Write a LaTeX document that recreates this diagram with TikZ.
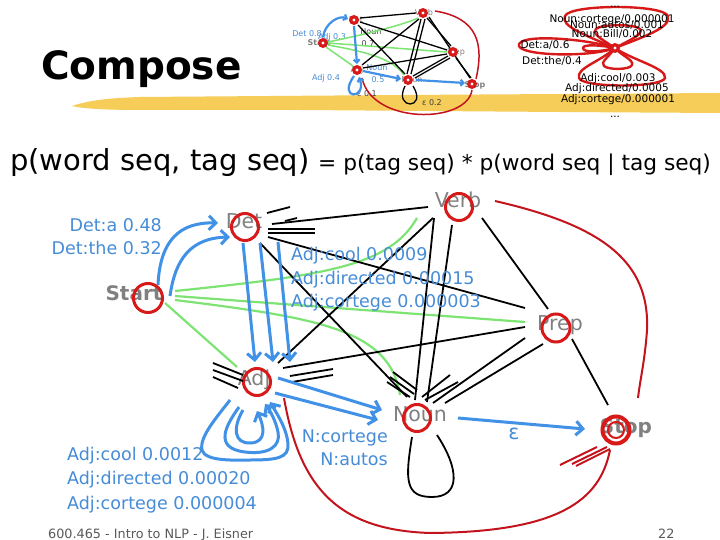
\documentclass[tikz,border=0pt]{standalone}
\usepackage{fontspec}
\setmainfont{DejaVu Sans}
\usetikzlibrary{arrows.meta,calc}
\definecolor{tagred}{RGB}{215,25,25}
\definecolor{curvered}{RGB}{195,20,30}
\definecolor{arrblue}{RGB}{65,145,230}
\definecolor{labblue}{RGB}{70,140,215}
\definecolor{lgreen}{RGB}{125,228,115}
\definecolor{taggray}{RGB}{128,128,128}
\definecolor{brush}{RGB}{244,200,70}
\definecolor{footgray}{RGB}{90,90,90}
\newcommand{\myfs}[1]{\fontsize{#1}{#1}\selectfont}
\tikzset{
  tagcirc/.style={circle, draw=tagred, line width=3pt, minimum size=27pt, inner sep=0pt},
  taglab/.style={text=taggray, font=\myfs{20.5}, inner sep=0pt, anchor=mid},
  taglabb/.style={text=taggray, font=\myfs{20}\bfseries, inner sep=0pt, anchor=mid},
  blab/.style={text=labblue, font=\myfs{17.5}, inner sep=0pt},
  blk/.style={draw=black, line width=1.8pt},
  grn/.style={draw=lgreen, line width=2.2pt},
  redc/.style={draw=curvered, line width=2pt},
  barr/.style={draw=arrblue, line width=3pt, -{Straight Barb[length=7pt,width=14pt]}},
  tdot/.style={circle, fill=tagred, minimum size=10pt, inner sep=0pt,
     path picture={\fill[white] (path picture bounding box.center) circle (1.6pt);}},
  tlab/.style={font=\myfs{8}, inner sep=0pt, anchor=mid},
  tblk/.style={draw=black, line width=1.3pt},
  tgrn/.style={draw=lgreen, line width=1.5pt},
  tblu/.style={draw=arrblue, line width=2.2pt, -{Straight Barb[length=3pt,width=6pt]}},
  tred/.style={draw=curvered, line width=1.5pt},
  flab/.style={font=\myfs{10.5}, inner sep=0pt, anchor=mid},
  floop/.style={draw=tagred, line width=2.4pt},
}
\begin{document}
\begin{tikzpicture}[x=1pt,y=-1pt]
\fill[white] (0,0) rectangle (720,540);
\useasboundingbox (0,0) rectangle (720,540);
% yellow brush stroke
\fill[brush, opacity=0.9] (72,106) .. controls (90,100) and (110,98) .. (140,97) -- (400,95) -- (720,93) -- (720,113) -- (560,112) -- (300,110) -- (140,110) .. controls (110,110) and (85,109) .. cycle;

% title and formula
\node[anchor=base west, inner sep=0pt, font=\myfs{39}\bfseries] (title) at (41,80) {Compose};
\node[anchor=base west, inner sep=0pt, font=\myfs{29}] (lhs) at (10,171) {p(word seq, tag seq)};
\node[anchor=base west, inner sep=0pt, font=\myfs{21.7}] (rhs) at (318,171) {= p(tag seq) * p(word seq | tag seq)};
\node[anchor=base west, inner sep=0pt, font=\myfs{12.8}, text=footgray] (foot) at (48,538) {600.465 - Intro to NLP - J. Eisner};
\node[anchor=base west, inner sep=0pt, font=\myfs{12.8}, text=footgray] (pnum) at (658,538) {22};

% ---------------- thumbnail (top middle) ----------------
\node[tlab, text=taggray] (tvl) at (424,13) {Verb};
\node[tlab, text=taggray] (tdl) at (356,20) {Det};
\node[tlab, text=taggray, font=\myfs{8}\bfseries] (tsl) at (319,43) {Start};
\node[tlab, text=taggray] (tpl) at (456,52) {Prep};
\node[tlab, text=taggray] (tal) at (357,70) {Adj};
\node[tlab, text=taggray] (tnl) at (412,80) {Noun};
\node[tlab, text=taggray, font=\myfs{8}\bfseries] (ttl) at (475,85) {Stop};
\node[tlab, text=labblue] (tl1) at (307,34) {Det 0.8};
\node[tlab, text=labblue] (tl2) at (332,37) {Adj 0.3};
\node[tlab, text=black!75] (tl3) at (371,32) {Noun};
\node[tlab, text=black!75] (tl4) at (368,44) {0.7};
\node[tlab, text=labblue] (tl5) at (326,78) {Adj 0.4};
\node[tlab, text=labblue] (tl6) at (377,68) {Noun};
\node[tlab, text=labblue] (tl7) at (378,80) {0.5};
\node[tlab, text=black!75] (tl8) at (367,94) {ε 0.1};
\node[tlab, text=black!75] (tl9) at (432,103) {ε 0.2};

\coordinate (tv) at (423,13);
\coordinate (td) at (354,20);
\coordinate (ts) at (323,43);
\coordinate (tp) at (453,52);
\coordinate (ta) at (357,70);
\coordinate (tn) at (408,80);
\coordinate (tt) at (472,84);

\draw[tgrn] ($(ts)+(5,-1)$) .. controls ($(ts)+(50,-10)$) and ($(tv)+(-15,10)$) .. ($(tv)+(-5,5)$);
\draw[tgrn] ($(ts)+(5,0)$) -- ($(tp)+(-6,0)$);
\draw[tgrn] ($(ts)+(3,4)$) -- ($(ta)+(-4,-4)$);
\draw[tgrn] ($(ts)+(5,2)$) .. controls ($(ts)+(50,10)$) and ($(tn)+(-15,-20)$) .. ($(tn)+(-4,-5)$);

\draw[tblk] ($(td)+(6,-2)$) -- ($(tv)+(-7,0)$);
\draw[tblk] ($(td)+(6,2)$) -- ($(tp)+(-6,-2)$);
\draw[tblk] ($(td)+(4,5)$) -- ($(tn)+(-3,-6)$);
\draw[tblk] ($(ta)+(5,-5)$) -- ($(tv)+(-4,6)$);
\draw[tblk] ($(ta)+(6,-2)$) -- ($(tp)+(-6,2)$);
\draw[tblk] ($(tv)+(-2,6)$) -- ($(tn)+(-1,-6)$);
\draw[tblk] ($(tv)+(2,6)$) -- ($(tn)+(3,-6)$);
\draw[tblk] ($(tv)+(4,5)$) -- ($(tp)+(-2,-6)$);
\draw[tblk] ($(tv)+(6,4)$) -- ($(tt)+(-2,-6)$);
\draw[tblk] ($(tp)+(-5,4)$) -- ($(tn)+(5,-4)$);
\draw[tblk] ($(tp)+(-3,6)$) -- ($(tn)+(7,-2)$);
\draw[tblk] ($(tp)+(3,6)$) -- ($(tt)+(-1,-6)$);
\draw[tblk] ($(tn)+(-3,6)$) .. controls ($(tn)+(-15,30)$) and ($(tn)+(20,30)$) .. ($(tn)+(5,6)$);

\draw[tred] ($(tv)+(12,-2)$) .. controls ($(tv)+(55,5)$) and ($(tt)+(12,-40)$) .. ($(tt)+(4,-5)$);
\draw[tred] ($(ta)+(5,8)$) .. controls ($(ta)+(15,55)$) and ($(tt)+(-5,40)$) .. ($(tt)+(0,6)$);

\draw[tblu] ($(ts)+(0,-6)$) .. controls ($(ts)+(2,-20)$) and ($(td)+(-15,-5)$) .. ($(td)+(-6,-1)$);
\draw[tblu] ($(td)+(0,6)$) -- ($(ta)+(0,-6)$);
\draw[tblu] ($(ta)+(6,1)$) -- ($(tn)+(-7,-1)$);
\draw[tblu] ($(tn)+(8,0)$) -- ($(tt)+(-7,-1)$);
\draw[tblu] ($(ta)+(-3,6)$) .. controls ($(ta)+(-20,30)$) and ($(ta)+(10,30)$) .. ($(ta)+(2,7)$);

\node[tdot] (tvd) at (tv) {};
\node[tdot] (tdd) at (td) {};
\node[tdot] (tsd) at (ts) {};
\node[tdot] (tpd) at (tp) {};
\node[tdot] (tad) at (ta) {};
\node[tdot] (tnd) at (tn) {};
\node[tdot] (ttd) at (tt) {};

% ---------------- FST thumbnail (top right) ----------------
\coordinate (fst) at (615,48);
\draw[floop] (fst) .. controls (585,35) and (560,26) .. (565,16) .. controls (570,4) and (663,4) .. (668,16) .. controls (672,28) and (640,38) .. (fst);
\draw[floop] (fst) .. controls (600,38) and (592,34) .. (596,29) .. controls (600,24) and (636,24) .. (640,29) .. controls (644,34) and (630,40) .. (fst);
\draw[floop] (fst) .. controls (592,40) and (525,33) .. (519,44) .. controls (514,56) and (590,58) .. (fst);
\draw[floop] (fst) .. controls (600,45) and (583,44) .. (583,48) .. controls (583,53) and (600,52) .. (fst);
\draw[floop] (fst) .. controls (600,62) and (576,68) .. (579,78) .. controls (582,88) and (662,88) .. (665,78) .. controls (667,68) and (632,60) .. (fst);
\draw[floop] (fst) .. controls (608,58) and (600,62) .. (604,66) .. controls (608,70) and (630,70) .. (632,65) .. controls (634,60) and (622,56) .. (fst);
\node[flab] (f0) at (615,5) {...};
\node[flab] (f1) at (612,20) {Noun:cortege/0.000001};
\node[flab] (f2) at (617,26) {Noun:autos/0.001};
\node[flab] (f3) at (612,35) {Noun:Bill/0.002};
\node[flab] (f4) at (545,46) {Det:a/0.6};
\node[flab] (f5) at (552,62) {Det:the/0.4};
\node[flab] (f6) at (618,79) {Adj:cool/0.003};
\node[flab] (f7) at (617,89) {Adj:directed/0.0005};
\node[flab] (f8) at (618,100) {Adj:cortege/0.000001};
\node[flab] (f9) at (615,115) {...};
\node[tdot] (fstd) at (fst) {};

% ---------------- main diagram ----------------
\node[taglab] (verbt) at (458,205) {Verb};
\node[taglab] (dett) at (244,226) {Det};
\node[taglabb] (startt) at (134,298) {Start};
\node[taglab] (prept) at (560,328) {Prep};
\node[taglab] (adjt) at (254,383) {Adj};
\node[taglab] (nount) at (420,419) {Noun};
\node[taglabb] (stopt) at (626,431) {Stop};
\node[taglab, text=labblue] (eps) at (514,437) {ε};

\node[tagcirc, minimum size=29pt] (start) at (148,298) {};
\node[tagcirc] (det) at (245,227) {};
\node[tagcirc] (verb) at (459,207) {};
\node[tagcirc, minimum size=28pt] (prep) at (556,328) {};
\node[tagcirc] (adj) at (257,382) {};
\node[tagcirc] (noun) at (417,418) {};
\node[tagcirc, line width=4pt] (stop) at (616,430) {};
\node[circle, draw=tagred, line width=2pt, minimum size=16pt, inner sep=0pt] (stopin) at (stop) {};

% green
\draw[grn] ($(start)+(27,-7)$) .. controls ($(start)+(182,-23)$) and ($(verb)+(-69,58)$) .. ($(verb)+(-42,11)$);
\draw[grn] ($(start)+(27,-2)$) -- ($(prep)+(-31,-6)$);
\draw[grn] ($(start)+(27,2)$) .. controls ($(start)+(172,20)$) and ($(noun)+(-27,-88)$) .. ($(noun)+(-17,-23)$);
\draw[grn] ($(start)+(17,5)$) -- ($(adj)+(-20,-15)$);

% black
\draw[blk] ($(det)+(27,-3)$) -- ($(verb)+(-31,0)$);
\draw[blk] ($(det)+(22,-14)$) -- ($(det)+(45,-20)$);
\draw[blk] ($(det)+(40,-6)$) -- ($(det)+(52,-9)$);
\draw[blk] ($(det)+(23,2)$) -- ($(det)+(70,2)$);
\draw[blk] ($(det)+(23,6)$) -- ($(det)+(70,6)$);
\draw[blk] ($(det)+(23,10)$) -- ($(prep)+(-31,-20)$);
\draw[blk] ($(det)+(15,16)$) -- ($(noun)+(-10,-21)$);
\draw[blk] ($(adj)+(21,-19)$) -- ($(verb)+(-26,11)$);
\draw[blk] ($(adj)+(26,-14)$) -- ($(prep)+(-31,-1)$);
\draw[blk] ($(adj)+(33,-6)$) -- ($(adj)+(76,-13)$);
\draw[blk] ($(adj)+(35,0)$) -- ($(adj)+(76,-7)$);
\draw[blk] ($(adj)+(-44,-19)$) -- ($(adj)+(-14,-7)$);
\draw[blk] ($(adj)+(-44,-12)$) -- ($(adj)+(-14,-1)$);
\draw[blk] ($(adj)+(-44,-5)$) -- ($(adj)+(-19,6)$);
\draw[blk] ($(verb)+(-25,11)$) -- ($(noun)+(-2,-18)$);
\draw[blk] ($(verb)+(-7,18)$) -- ($(noun)+(10,-16)$);
\draw[blk] ($(verb)+(23,11)$) -- ($(prep)+(-8,-19)$);
\draw[blk] ($(prep)+(-31,10)$) -- ($(noun)+(16,-15)$);
\draw[blk] ($(prep)+(-13,16)$) -- ($(noun)+(28,-15)$);
\draw[blk] ($(noun)+(-27,-41)$) -- ($(noun)+(-3,-24)$);
\draw[blk] ($(noun)+(-24,-46)$) -- ($(noun)+(0,-28)$);
\draw[blk] ($(noun)+(-30,-36)$) -- ($(noun)+(-7,-21)$);
\draw[blk] ($(noun)+(5,-21)$) -- ($(noun)+(33,-43)$);
\draw[blk] ($(noun)+(8,-18)$) -- ($(noun)+(41,-36)$);
\draw[blk] ($(prep)+(16,11)$) -- ($(stop)+(-8,-25)$);
\draw[blk] ($(noun)+(-5,19)$) .. controls ($(noun)+(-12,62)$) and ($(noun)+(-12,79)$) .. ($(noun)+(15,79)$) .. controls ($(noun)+(43,79)$) and ($(noun)+(43,52)$) .. ($(noun)+(20,17)$);

% red
\draw[redc] ($(verb)+(36,-6)$) .. controls ($(verb)+(141,18)$) and ($(verb)+(191,53)$) .. ($(verb)+(188,123)$) .. controls ($(stop)+(29,-70)$) and ($(stop)+(24,-50)$) .. ($(stop)+(22,-32)$);
\draw[redc] ($(adj)+(27,16)$) .. controls ($(adj)+(43,108)$) and ($(adj)+(83,148)$) .. ($(adj)+(173,151)$) .. controls ($(stop)+(-56,102)$) and ($(stop)+(-16,70)$) .. ($(stop)+(-6,20)$);
\draw[redc] ($(stop)+(-56,35)$) -- ($(stop)+(-19,17)$);
\draw[redc] ($(stop)+(-44,34)$) -- ($(stop)+(-9,17)$);
\draw[redc] ($(stop)+(-40,36)$) -- ($(stop)+(-6,19)$);

% blue arrows
\draw[barr] ($(start)+(10,-13)$) .. controls ($(start)+(12,-58)$) and ($(start)+(32,-76)$) .. ($(det)+(-27,-4)$);
\draw[barr] ($(start)+(22,-2)$) .. controls ($(start)+(27,-38)$) and ($(start)+(42,-60)$) .. ($(det)+(-15,10)$);
\draw[barr] ($(det)+(-2,16)$) -- ($(adj)+(-2,-20)$);
\draw[barr] ($(det)+(15,16)$) -- ($(adj)+(16,-20)$);
\draw[barr] ($(det)+(33,15)$) -- ($(adj)+(33,-20)$);
\draw[barr] ($(adj)+(21,-4)$) -- ($(noun)+(-35,-8)$);
\draw[barr] ($(adj)+(18,11)$) -- ($(noun)+(-39,2)$);
\draw[barr] ($(noun)+(41,0)$) -- ($(stop)+(-31,-1)$);
\draw[barr] ($(adj)+(-27,18)$) .. controls ($(adj)+(-40,35)$) and ($(adj)+(-58,55)$) .. ($(adj)+(-55,68)$) .. controls ($(adj)+(-52,80)$) and ($(adj)+(-20,78)$) .. ($(adj)+(-7,78)$) .. controls ($(adj)+(20,78)$) and ($(adj)+(32,76)$) .. ($(adj)+(31,62)$) .. controls ($(adj)+(30,48)$) and ($(adj)+(22,35)$) .. ($(adj)+(13,20)$);
\draw[barr] ($(adj)+(-18,25)$) .. controls ($(adj)+(-30,42)$) and ($(adj)+(-45,66)$) .. ($(adj)+(-12,70)$) .. controls ($(adj)+(12,73)$) and ($(adj)+(24,64)$) .. ($(adj)+(21,50)$) .. controls ($(adj)+(19,40)$) and ($(adj)+(14,30)$) .. ($(adj)+(8,22)$);
\draw[barr] ($(adj)+(-14,28)$) .. controls ($(adj)+(-24,45)$) and ($(adj)+(-24,62)$) .. ($(adj)+(-6,61)$) .. controls ($(adj)+(10,60)$) and ($(adj)+(7,44)$) .. ($(adj)+(0,29)$);

% blue labels
\node[blab, anchor=mid east] (la1) at (162,229) {Det:a 0.48};
\node[blab, anchor=mid east] (la2) at (162,252) {Det:the 0.32};
\node[blab, anchor=mid west] (lb1) at (291,258) {Adj:cool 0.0009};
\node[blab, anchor=mid west] (lb2) at (291,282) {Adj:directed 0.00015};
\node[blab, anchor=mid west] (lb3) at (291,305) {Adj:cortege 0.000003};
\node[blab, anchor=mid west] (lc1) at (67,458) {Adj:cool 0.0012};
\node[blab, anchor=mid west] (lc2) at (67,482) {Adj:directed 0.00020};
\node[blab, anchor=mid west] (lc3) at (67,507) {Adj:cortege 0.000004};
\node[blab, anchor=mid east] (ln1) at (388,440) {N:cortege};
\node[blab, anchor=mid east] (ln2) at (388,463) {N:autos};
\end{tikzpicture}
\end{document}
